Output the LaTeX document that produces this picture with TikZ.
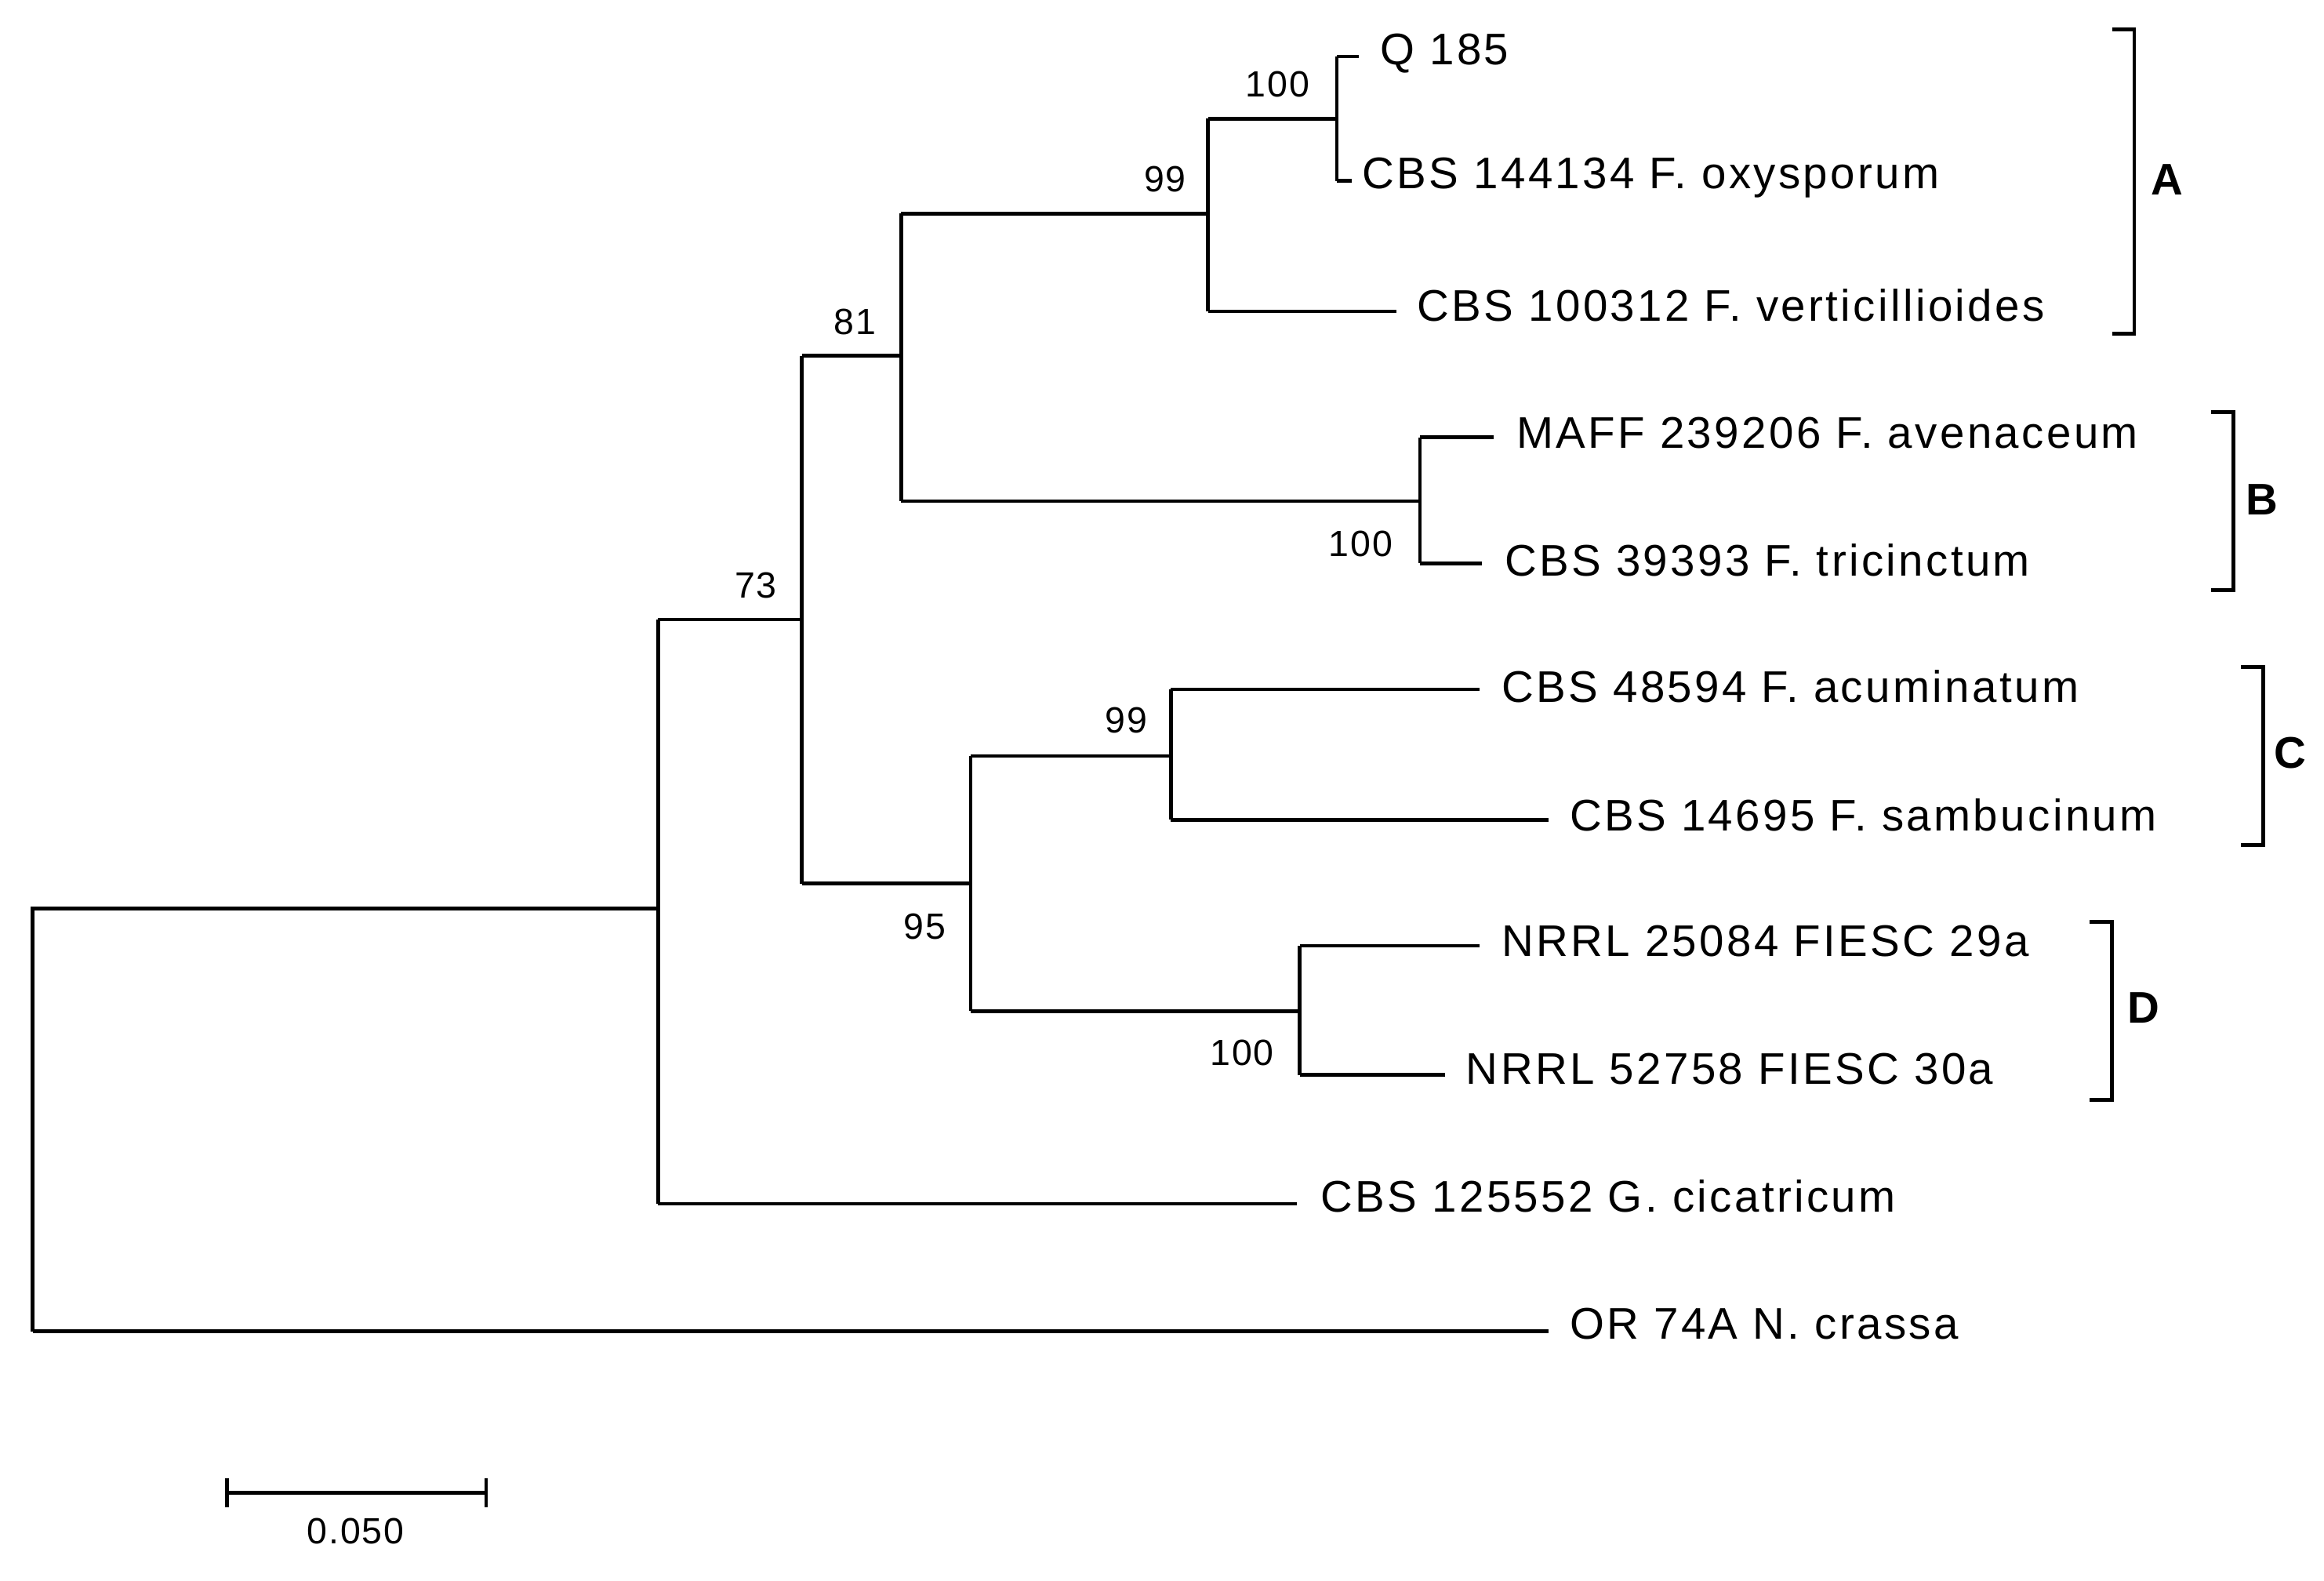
\documentclass[tikz,border=0pt]{standalone}
\usepackage{fontspec}
\setmainfont{Liberation Sans}
\newfontfamily\wide[LetterSpace=6]{Liberation Sans}
\newfontfamily\widebs[LetterSpace=4]{Liberation Sans}
\begin{document}
\begin{tikzpicture}[x=0.02cm,y=-0.02cm,line width=1.4pt,
 leaf/.style={anchor=west,inner sep=0pt,font=\wide\fontsize{17}{20}\selectfont},
 bs/.style={inner sep=0pt,font=\widebs\fontsize{14}{16}\selectfont},
 grp/.style={inner sep=0pt,font=\fontsize{17}{20}\selectfont\bfseries}]
\useasboundingbox (0,0) rectangle (1568,1066);
% internal nodes
\coordinate (r) at (22,613);
\coordinate (n1) at (444,613);
\coordinate (n2) at (541,418);
\coordinate (n3) at (608,240);
\coordinate (n4) at (815,144);
\coordinate (n5) at (902,80);
\coordinate (n6) at (958,338);
\coordinate (n7) at (655,596);
\coordinate (n8) at (790,510);
\coordinate (n9) at (877,682);
% leaves
\node[leaf] (l1) at (930,36) {Q 185};
\node[leaf] (l2) at (918,120) {CBS 144134 F. oxysporum};
\node[leaf] (l3) at (955,206) {CBS 100312 F. verticillioides};
\node[leaf] (l4) at (1022,292) {MAFF 239206 F. avenaceum};
\node[leaf] (l5) at (1014,378) {CBS 39393 F. tricinctum};
\node[leaf] (l6) at (1012,463) {CBS 48594 F. acuminatum};
\node[leaf] (l7) at (1058,550) {CBS 14695 F. sambucinum};
\node[leaf] (l8) at (1012,635) {NRRL 25084 FIESC 29a};
\node[leaf] (l9) at (988,721) {NRRL 52758 FIESC 30a};
\node[leaf] (l10) at (890,807) {CBS 125552 G. cicatricum};
\node[leaf] (l11) at (1058,893) {OR 74A N. crassa};
% branches
\draw (r |- 0,898) -- (r) -- (n1);
\draw (22,898) -- (1045,898);
\draw (n1 |- 0,418) -- (n1 |- 0,812);
\draw (444,812) -- (875,812);
\draw (444,418) -- (n2);
\draw (541,240) -- (541,596);
\draw (541,240) -- (n3);
\draw (608,144) -- (608,338);
\draw (608,144) -- (n4);
\draw (815,80) -- (815,210);
\draw (815,80) -- (n5);
\draw (902,38) -- (902,122);
\draw (902,38) -- (917,38);
\draw (902,122) -- (912,122);
\draw (815,210) -- (942,210);
\draw (608,338) -- (n6);
\draw (958,295) -- (958,380);
\draw (958,295) -- (1008,295);
\draw (958,380) -- (1000,380);
\draw (541,596) -- (n7);
\draw (655,510) -- (655,682);
\draw (655,510) -- (n8);
\draw (790,465) -- (790,553);
\draw (790,465) -- (998,465);
\draw (790,553) -- (1045,553);
\draw (655,682) -- (n9);
\draw (877,638) -- (877,725);
\draw (877,638) -- (998,638);
\draw (877,725) -- (975,725);
% bootstrap
\node[bs] (b1) at (862,57) {100};
\node[bs] (b2) at (786,121) {99};
\node[bs] (b3) at (577,217) {81};
\node[bs] (b4) at (510,395) {73};
\node[bs] (b5) at (918,367) {100};
\node[bs] (b6) at (760,486) {99};
\node[bs] (b7) at (624,625) {95};
\node[bs] (b8) at (838,710) {100};
% brackets
\draw (1425,20) -- (1440,20) -- (1440,225) -- (1425,225);
\node[grp] (gA) at (1462,121) {A};
\draw (1492,278) -- (1507,278) -- (1507,398) -- (1492,398);
\node[grp] (gB) at (1526,337) {B};
\draw (1512,450) -- (1527,450) -- (1527,570) -- (1512,570);
\node[grp] (gC) at (1545,508) {C};
\draw (1410,622) -- (1425,622) -- (1425,742) -- (1410,742);
\node[grp] (gD) at (1446,680) {D};
% scale
\draw (153,997) -- (153,1017);
\draw (328,997) -- (328,1017);
\draw (153,1007) -- (328,1007);
\node[bs] (sc) at (240,1033) {0.050};
\end{tikzpicture}
\end{document}
